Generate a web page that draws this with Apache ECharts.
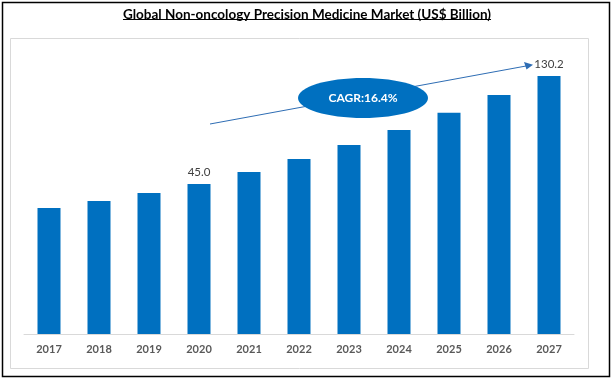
<!DOCTYPE html>
<html><head><meta charset="utf-8">
<script src="https://cdn.jsdelivr.net/npm/echarts@6/dist/echarts.min.js"></script>
<style>html,body{margin:0;padding:0;background:#fff}#c{width:614px;height:381px}</style>
</head><body><div id="c"></div>
<script>
const YEARS = ['2017','2018','2019','2020','2021','2022','2023','2024','2025','2026','2027'];
const MARKET_VALUES = [26.1, 31.6, 37.9, 45.0, 54.5, 64.7, 75.8, 87.6, 101.2, 115.2, 130.2];
const LABELLED_YEARS = ['2020','2027'];
const TITLE = 'Global Non-oncology Precision Medicine Market (US$ Billion)';
const CAGR_TEXT = 'CAGR:16.4%';
const AXIS_MIN = -73.3;
const AXIS_MAX = 158.6;

const BLUE = '#0070C0';
const FONT = 'Lato';
const TITLE_SIZE = 13.5;

const ctx = document.createElement('canvas').getContext('2d');
ctx.font = 'bold ' + TITLE_SIZE + 'px ' + FONT;
const titleW = ctx.measureText(TITLE).width;

const chart = echarts.init(document.getElementById('c'), null, {renderer: 'canvas'});
chart.setOption({
  animation: false,
  backgroundColor: '#fff',
  title: {
    text: TITLE, left: 'center', top: 3,
    textStyle: {fontFamily: FONT, fontWeight: 'bold', fontSize: TITLE_SIZE, color: '#000'}
  },
  grid: {left: 24, right: 40, top: 40, bottom: 47},
  xAxis: {
    type: 'category', data: YEARS,
    axisLine: {onZero: false, lineStyle: {color: '#D9D9D9', width: 1}},
    axisTick: {show: false},
    axisLabel: {color: '#595959', fontFamily: FONT, fontWeight: 'bold', fontSize: 11, margin: 10}
  },
  yAxis: {
    type: 'value', min: AXIS_MIN, max: AXIS_MAX, startValue: AXIS_MIN, show: false,
    splitLine: {show: false}
  },
  series: [{
    type: 'bar', barWidth: 23,
    itemStyle: {color: BLUE},
    data: MARKET_VALUES.map((v, i) => ({
      value: v,
      label: {
        show: LABELLED_YEARS.includes(YEARS[i]), position: 'top', distance: 6,
        formatter: (p) => p.value.toFixed(1),
        color: '#404040', fontFamily: FONT, fontSize: 11.5
      }
    }))
  }],
  graphic: [
    {type: 'rect', shape: {x: 2.5, y: 2.5, width: 607, height: 374}, style: {fill: null, stroke: '#000', lineWidth: 1.5}, silent: true},
    {type: 'rect', shape: {x: 10.5, y: 38.5, width: 578, height: 330}, style: {fill: null, stroke: '#D9D9D9', lineWidth: 1}, silent: true},
    {type: 'line', shape: {x1: 307 - titleW / 2, y1: 19.5, x2: 307 + titleW / 2, y2: 19.5}, style: {stroke: '#000', lineWidth: 1}, silent: true},
    {type: 'line', shape: {x1: 210, y1: 124, x2: 526, y2: 66}, style: {stroke: '#2E6DB4', lineWidth: 1}, silent: true},
    {type: 'polygon', shape: {points: [[533, 64.7], [524, 62], [526.5, 69.5]]}, style: {fill: '#2E6DB4'}, silent: true},
    {type: 'ellipse', shape: {cx: 363, cy: 98, rx: 65, ry: 20}, style: {fill: BLUE}, silent: true},
    {type: 'text', x: 363, y: 98, style: {text: CAGR_TEXT, fill: '#fff', font: 'bold 12px ' + FONT, align: 'center', verticalAlign: 'middle'}, silent: true}
  ]
});
</script></body></html>
